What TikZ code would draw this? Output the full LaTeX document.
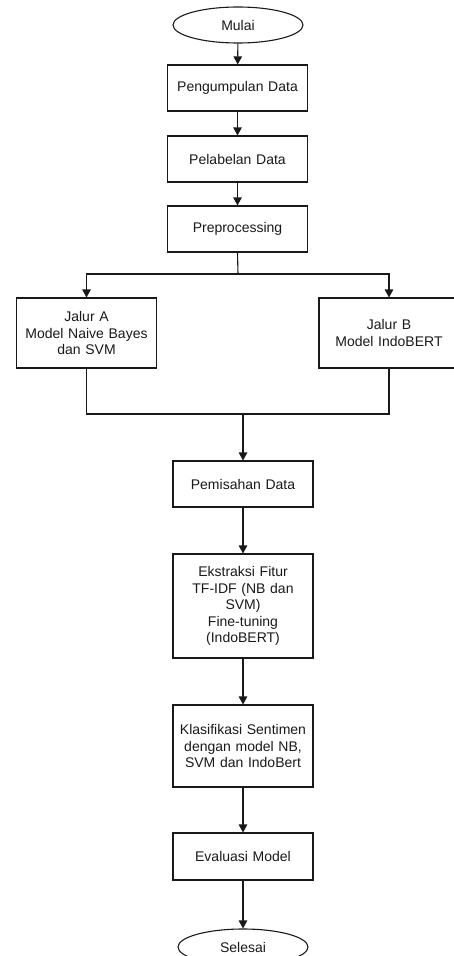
\documentclass[tikz,border=0pt]{standalone}
\usepackage{fontspec}
\setmainfont{Liberation Sans}
\usetikzlibrary{shapes.geometric,arrows.meta}
\begin{document}
\begin{tikzpicture}[x=1pt,y=1pt,
  every node/.style={font=\fontsize{14}{16.5}\selectfont, text=black!90},
  boxst/.style={draw=black!90, line width=1.1pt, rectangle, minimum width=139pt, inner sep=2pt, align=center, text width=136pt},
  ellst/.style={draw=black!90, line width=1.1pt, ellipse, minimum width=130pt, minimum height=36pt, inner sep=0pt},
  arr/.style={draw=black!90, line width=1.1pt, -{Triangle[length=8pt,width=8.5pt]}},
  ln/.style={draw=black!90, line width=1.1pt}]
\useasboundingbox (0,0) rectangle (454,-956);
\node[ellst] (mulai) at (238,-25) {Mulai};
\node[boxst, minimum height=46pt] (b1) at (237.5,-88) {Pengumpulan Data};
\node[boxst, minimum height=46pt] (b2) at (237.5,-159) {Pelabelan Data};
\node[boxst, minimum height=46pt] (b3) at (237.5,-229) {Preprocessing};
\node[boxst, minimum height=70pt] (A) at (86.5,-333) {Jalur A\\Model Naive Bayes\\dan SVM};
\node[boxst, minimum width=140pt, minimum height=70pt] (B) at (389,-333) {Jalur B\\Model IndoBERT};
\node[boxst, minimum width=140pt, minimum height=46pt] (pem) at (243,-484) {Pemisahan Data};
\node[boxst, minimum width=140pt, minimum height=104pt] (eks) at (243,-606) {Ekstraksi Fitur\\TF-IDF (NB dan\\SVM)\\Fine-tuning\\(IndoBERT)};
\node[boxst, minimum width=140pt, minimum height=82pt] (kla) at (243,-746) {Klasifikasi Sentimen\\dengan model NB,\\SVM dan IndoBert};
\node[boxst, minimum width=140pt, minimum height=47pt] (eva) at (243,-856.5) {Evaluasi Model};
\node[ellst] (sel) at (243,-947) {Selesai};
\coordinate (sp) at (238,-274);
\coordinate (jn) at (243,-414);
\draw[arr] (mulai) -- (b1);
\draw[arr] (b1) -- (b2);
\draw[arr] (b2) -- (b3);
\draw[ln] (b3.south) -- (sp);
\draw[arr] (sp) -| (A.north);
\draw[arr] (sp) -| (B.north);
\draw[ln] (A.south) |- (jn);
\draw[ln] (B.south) |- (jn);
\draw[arr] (jn) -- (pem.north);
\draw[arr] (pem) -- (eks);
\draw[arr] (eks) -- (kla);
\draw[arr] (kla) -- (eva);
\draw[arr] (eva) -- (sel);
\end{tikzpicture}
\end{document}
